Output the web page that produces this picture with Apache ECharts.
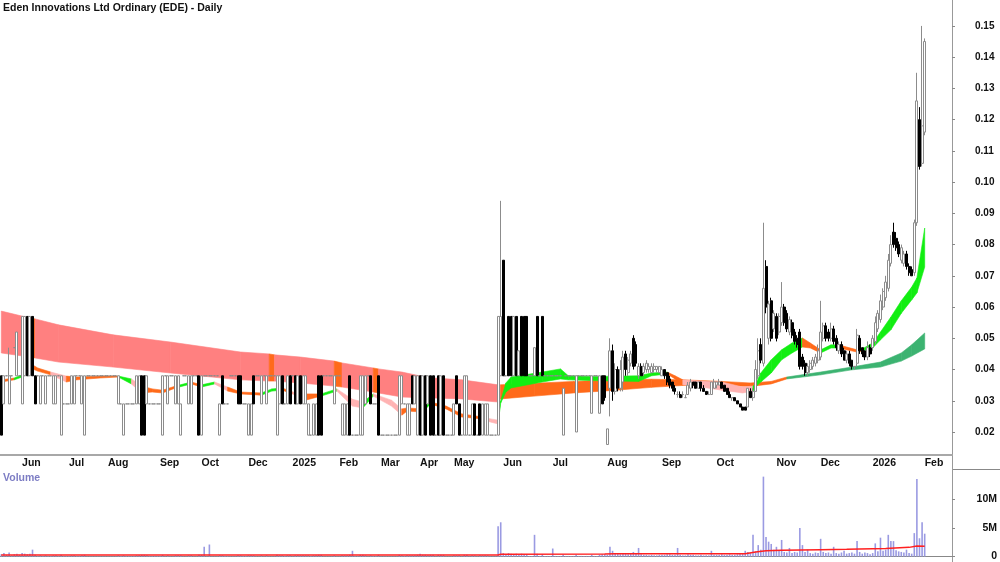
<!DOCTYPE html>
<html>
<head>
<meta charset="utf-8">
<script src="https://cdn.jsdelivr.net/npm/echarts@6.0.0/dist/echarts.min.js"></script>
<style>
  html, body { margin: 0; padding: 0; background: #fff; }
  #main { width: 1000px; height: 562px; }
</style>
</head>
<body>
<div id="main"></div>
<script>
// price levels the stock kept returning to in 2024-25
var H = 0.038, M = 0.029, L = 0.019;
var dH = [H, H, H, H], dM = [M, M, M, M], dL = [L, L, L, L];
var uMH = [M, H, M, H], dHM = [H, M, M, H], uLH = [L, H, L, H], dHL = [H, L, L, H], uLM = [L, M, L, M], dML = [M, L, L, M];

// candles: [open, close, low, high], one per traded day
var may24 = [dHL, uMH, dH, [M, H, M, 0.047], dH, [0.047, 0.047, 0.047, 0.047], [H, 0.052, H, 0.052], dH];
var jun24 = [[M, 0.057, M, 0.057], [H, 0.057, H, 0.057], [0.057, H, H, 0.057], [H, 0.057, H, 0.057], [0.057, H, H, 0.057],
  dHM, dH, uMH, dH, uMH, dH, dH, uMH, uMH, dH, uLH, dM, dM];
var jul24 = [dM, uMH, uMH, dH, dH, uMH, uLH, dH, dH, dH, dH, dH, dH, dH, dH];
var aug24 = [dH, dH, dH, dH, uMH, dM, uLM, dM, dM, dM, dM, uMH, uMH, dHL, dHL, uMH, dM, dM, dM, dM];
var sep24 = [dM, uLH, dH, uMH, dH, dH, uMH, uMH, uLM, dH, dH, uMH, uMH, dH, dH, dHL];
var oct24 = [uLH, dH, dH, dH, dH, dH, dH, uLM, dHM, dM, dM, dH, dH, dH, dHM, dHM, dM, dM];
var dec24 = [uLM, uLM, dHM, dH, dH, uMH, dH, uMH, dH, dH, dH, uLH, uMH, dHM, dM, uMH, dHM];
var jan25 = [dH, dHM, uMH, dHM, uMH, uMH, uLM, dL, uLM, uLM, dHL, dHL, dH, dH, dH, dH, uMH, dH];
var feb25 = [dH, uLM, uLM, uLM, dHL, dL, dL, dL, uLH, uLH, uMH, dH, dHM, dM, dM, dHL];
var mar25 = [dL, dL, dL, dL, dL, dL, dL, uLH, uMH, dM, uLM, uLM, dHM, uMH, uLH];
var apr25 = [dHL, uLH, dHL, uMH, dHL, dHL, dL, dHL, uLH, dHL, dL, dL, dL];
var may25 = [uLM, dHM, dML, dL, uLH, uLH, dL, uLM, dML, dL, dML, uLM, uLM, uLM, dL, dL, dL,
  [L, 0.057, L, 0.057], [H, 0.057, H, 0.094]];
var jun25 = [[0.075, H, H, 0.075], dH, [0.057, H, H, 0.057], [0.057, H, H, 0.057], [H, 0.057, H, 0.057], [0.057, H, H, 0.057],
  [H, 0.046, H, 0.046], [0.057, H, H, 0.057], [0.057, H, H, 0.057], [0.057, H, H, 0.057], dH, dH, [H, 0.047, H, 0.047],
  [0.057, H, H, 0.057], dH, [0.057, H, H, 0.057], dH, dH, dH];
var jul25 = [dH, dH, dH, dH, [L, 0.034, L, 0.034], dH, dH, dH, dH, [0.020, H, 0.020, H], dH, dH, dH, dH, dH,
  [0.026, H, 0.026, H], dH, dH, [0.026, H, 0.026, H], [H, M, M, H], [H, 0.031, 0.030, H]];
var aug25 = [[0.016, 0.021, 0.016, 0.021], [0.034, 0.046, 0.025, 0.050], [0.046, 0.033, 0.030, 0.048], [0.033, 0.040, 0.032, 0.042],
  [0.040, 0.034, 0.033, 0.041], [0.034, 0.040, 0.033, 0.043], [0.036, 0.044, 0.033, 0.046], [0.045, 0.040, 0.038, 0.046],
  [0.039, 0.043, 0.038, 0.044], [0.042, 0.045, 0.041, 0.046], [0.050, 0.041, 0.040, 0.051], [0.048, 0.042, 0.041, 0.049],
  [0.038, 0.041, 0.037, 0.042], [0.041, 0.038, 0.038, 0.042], [0.039, 0.041, 0.038, 0.042], [0.040, 0.042, 0.039, 0.043],
  [0.040, 0.041, 0.039, 0.042], [0.039, 0.041, 0.039, 0.042], [0.040, 0.041, 0.039, 0.042], [0.040, 0.041, 0.039, 0.041],
  [0.039, 0.041, 0.039, 0.041]];
var sep25 = [[0.038, 0.040, 0.038, 0.041], [0.040, 0.038, 0.037, 0.040], [0.039, 0.036, 0.035, 0.039], [0.037, 0.035, 0.034, 0.038],
  [0.036, 0.034, 0.033, 0.036], [0.034, 0.033, 0.032, 0.035], [0.032, 0.032, 0.031, 0.033], [0.032, 0.031, 0.031, 0.033],
  [0.032, 0.032, 0.031, 0.033], [0.031, 0.031, 0.031, 0.032], [0.032, 0.035, 0.032, 0.036], [0.034, 0.036, 0.033, 0.037],
  [0.036, 0.035, 0.034, 0.036], [0.036, 0.034, 0.034, 0.036], [0.034, 0.036, 0.034, 0.036], [0.036, 0.034, 0.033, 0.036],
  [0.034, 0.033, 0.033, 0.035], [0.033, 0.032, 0.032, 0.033], [0.032, 0.032, 0.032, 0.033], [0.032, 0.036, 0.032, 0.036],
  [0.034, 0.036, 0.034, 0.037]];
var oct25 = [[0.035, 0.036, 0.034, 0.036], [0.035, 0.036, 0.035, 0.037], [0.036, 0.034, 0.034, 0.036], [0.035, 0.033, 0.033, 0.035],
  [0.034, 0.032, 0.032, 0.034], [0.032, 0.031, 0.031, 0.033], [0.031, 0.031, 0.030, 0.031], [0.031, 0.030, 0.030, 0.031],
  [0.030, 0.029, 0.029, 0.030], [0.029, 0.028, 0.028, 0.029], [0.028, 0.027, 0.027, 0.028], [0.028, 0.027, 0.027, 0.028],
  [0.028, 0.034, 0.028, 0.034], [0.033, 0.031, 0.031, 0.034], [0.031, 0.033, 0.030, 0.034], [0.033, 0.040, 0.033, 0.043],
  [0.038, 0.046, 0.037, 0.050], [0.048, 0.043, 0.042, 0.050], [0.042, 0.066, 0.041, 0.087], [0.073, 0.060, 0.058, 0.075],
  [0.050, 0.061, 0.048, 0.062], [0.062, 0.050, 0.049, 0.063], [0.053, 0.058, 0.052, 0.059]];
var nov25 = [[0.057, 0.050, 0.049, 0.058], [0.052, 0.057, 0.051, 0.058], [0.055, 0.060, 0.054, 0.068], [0.060, 0.055, 0.054, 0.061],
  [0.058, 0.053, 0.052, 0.059], [0.052, 0.056, 0.051, 0.057], [0.055, 0.051, 0.050, 0.056], [0.052, 0.049, 0.048, 0.053],
  [0.050, 0.048, 0.047, 0.051], [0.052, 0.041, 0.040, 0.053], [0.044, 0.041, 0.040, 0.045], [0.042, 0.039, 0.038, 0.043],
  [0.039, 0.041, 0.038, 0.042], [0.040, 0.042, 0.039, 0.043], [0.041, 0.043, 0.040, 0.044], [0.042, 0.044, 0.041, 0.045],
  [0.043, 0.046, 0.042, 0.048]];
var dec25 = [[0.044, 0.052, 0.043, 0.062], [0.050, 0.054, 0.049, 0.055], [0.054, 0.050, 0.049, 0.055], [0.052, 0.050, 0.049, 0.053],
  [0.050, 0.053, 0.049, 0.055], [0.053, 0.049, 0.048, 0.054], [0.050, 0.047, 0.046, 0.051], [0.046, 0.048, 0.045, 0.049],
  [0.048, 0.045, 0.044, 0.049], [0.046, 0.043, 0.043, 0.047], [0.043, 0.045, 0.042, 0.046], [0.045, 0.042, 0.041, 0.046],
  [0.043, 0.041, 0.040, 0.043], [0.041, 0.041, 0.040, 0.041], [0.042, 0.051, 0.041, 0.053], [0.050, 0.046, 0.045, 0.051],
  [0.047, 0.045, 0.044, 0.047], [0.046, 0.044, 0.043, 0.046], [0.044, 0.047, 0.043, 0.049], [0.047, 0.045, 0.044, 0.048]];
var jan26 = [[0.047, 0.050, 0.046, 0.051], [0.049, 0.055, 0.048, 0.057], [0.053, 0.058, 0.052, 0.059], [0.056, 0.062, 0.055, 0.064],
  [0.060, 0.065, 0.059, 0.066], [0.063, 0.068, 0.062, 0.070], [0.066, 0.075, 0.065, 0.077], [0.074, 0.080, 0.073, 0.083],
  [0.084, 0.080, 0.079, 0.087], [0.082, 0.079, 0.078, 0.084], [0.080, 0.077, 0.076, 0.081], [0.075, 0.079, 0.074, 0.080],
  [0.074, 0.077, 0.073, 0.078], [0.077, 0.073, 0.072, 0.078], [0.073, 0.071, 0.070, 0.074], [0.072, 0.070, 0.070, 0.073],
  [0.071, 0.087, 0.070, 0.088], [0.087, 0.126, 0.086, 0.135], [0.120, 0.105, 0.104, 0.124], [0.106, 0.118, 0.105, 0.150]];
var feb26 = [[0.116, 0.145, 0.115, 0.146]];

// volume, millions of shares
var volMay24 = [0.4, 0.6, 0.3, 0.7, 0.2, 0.4, 0.5, 0.3];
var volJun24 = [0.6, 0.5, 0.4, 0.5, 1.2, 0.3, 0.1, 0.2, 0.1, 0.2, 0.1, 0.1, 0.2, 0.2, 0.1, 0.3, 0.1, 0.1];
var volJul24 = [0.1, 0.2, 0.2, 0.1, 0.1, 0.2, 0.3, 0.05, 0.05, 0.05, 0.05, 0.05, 0.05, 0.05, 0.05];
var volAug24 = [0.05, 0.05, 0.05, 0.05, 0.2, 0.1, 0.2, 0.1, 0.1, 0.1, 0.1, 0.2, 0.2, 0.3, 0.3, 0.2, 0.1, 0.1, 0.1, 0.1];
var volSep24 = [0.1, 0.3, 0.05, 0.2, 0.05, 0.05, 0.2, 0.2, 0.2, 0.05, 0.05, 0.2, 0.2, 0.05, 0.05, 0.3];
var volOct24 = [0.3, 1.7, 0.05, 2.1, 0.05, 0.05, 0.05, 0.2, 0.2, 0.1, 0.1, 0.05, 0.05, 0.05, 0.2, 0.2, 0.1, 0.1];
var volDec24 = [0.2, 0.2, 0.2, 0.05, 0.05, 0.2, 0.05, 0.2, 0.05, 0.05, 0.05, 0.3, 0.2, 0.2, 0.1, 0.2, 0.2];
var volJan25 = [0.05, 0.2, 0.2, 0.2, 0.2, 0.2, 0.2, 0.1, 0.2, 0.2, 0.3, 0.3, 0.05, 0.05, 0.05, 0.05, 0.2, 0.05];
var volFeb25 = [0.05, 0.2, 0.2, 0.2, 0.3, 1.0, 0.1, 0.1, 0.3, 0.3, 0.2, 0.05, 0.2, 0.1, 0.1, 0.3];
var volMar25 = [0.05, 0.05, 0.05, 0.05, 0.05, 0.05, 0.05, 0.3, 0.2, 0.1, 0.2, 0.2, 0.2, 0.2, 0.3];
var volApr25 = [0.5, 0.3, 0.3, 0.2, 0.3, 0.3, 0.05, 0.3, 0.3, 0.3, 0.05, 0.05, 0.05];
var volMay25 = [0.2, 0.2, 0.2, 0.05, 0.3, 0.3, 0.05, 0.2, 0.2, 0.05, 0.2, 0.2, 0.2, 0.2, 0.05, 0.05, 0.05, 5.3, 6.0];
var volJun25 = [0.6, 0.3, 0.6, 0.5, 0.4, 0.5, 0.3, 0.5, 0.4, 0.4, 0.1, 0.1, 3.8, 0.5, 0.1, 0.4, 0.1, 0.1, 0.1];
var volJul25 = [1.4, 0.1, 0.1, 0.1, 0.3, 0.1, 0.1, 0.1, 0.1, 0.3, 0.1, 0.1, 0.1, 0.1, 0.1, 0.3, 0.1, 0.1, 0.3, 0.4, 0.4];
var volAug25 = [0.3, 1.7, 1.0, 0.6, 0.5, 0.4, 0.6, 0.5, 0.4, 0.5, 0.8, 0.6, 1.5, 0.4, 0.3, 0.3, 0.2, 0.3, 0.2, 0.2, 0.3];
var volSep25 = [0.3, 0.3, 0.4, 0.4, 0.3, 0.3, 1.5, 0.3, 0.2, 0.2, 0.4, 0.3, 0.3, 0.2, 0.2, 0.3, 0.2, 0.2, 0.2, 1.0, 0.3];
var volOct25 = [0.3, 0.3, 0.4, 0.3, 0.3, 0.4, 0.3, 0.3, 0.4, 0.5, 0.6, 1.0, 0.8, 0.6, 3.8, 0.9, 2.0, 1.2, 14.0, 3.4, 2.6, 2.2, 1.2];
var volNov25 = [1.7, 1.0, 2.9, 0.8, 0.7, 1.5, 0.6, 0.8, 0.7, 5.0, 2.0, 0.8, 1.2, 0.6, 0.5, 0.7, 0.6];
var volDec25 = [3.1, 0.8, 0.6, 0.7, 0.5, 1.7, 0.6, 0.5, 0.7, 1.0, 0.5, 0.6, 0.7, 0.5, 2.7, 0.8, 0.5, 0.7, 0.6, 0.4];
var volJan26 = [0.6, 2.3, 0.9, 3.3, 1.0, 1.2, 3.8, 2.7, 2.7, 1.1, 0.9, 0.8, 0.7, 1.2, 0.6, 0.5, 4.1, 13.6, 3.2, 6.0];
var volFeb26 = [4.0];

// volume average line, read at a few bars
var volMaIdx = [0, 191, 192, 232, 236, 286, 290, 294, 300, 315, 325, 340, 349, 352, 355];
var volMa = [0.25, 0.25, 0.4, 0.45, 0.5, 0.5, 0.8, 1.0, 1.1, 1.2, 1.25, 1.4, 1.6, 1.85, 1.8];

// long-term average ribbon (bar index, upper, lower, trend of the stretch after it)
var longIdx = [0, 11, 13, 22, 43, 65, 92, 103, 105, 115, 128, 131, 143, 145, 154, 163, 166, 177, 191, 192,
  205, 220, 235, 250, 262, 277, 288, 296, 302, 315, 327, 338, 346, 350, 355];
var longHi = [0.0587, 0.0565, 0.0562, 0.0543, 0.0511, 0.0488, 0.0456, 0.0450, 0.0447, 0.0440, 0.0427, 0.0421, 0.0405, 0.0402,
  0.0392, 0.0376, 0.0373, 0.0367, 0.0351, 0.0351, 0.0356, 0.0362, 0.0367, 0.0369, 0.0367, 0.0362, 0.0357, 0.0362, 0.0376,
  0.0392, 0.0408, 0.0424, 0.0453, 0.0479, 0.0517];
var longLo = [0.0453, 0.0440, 0.0437, 0.0424, 0.0408, 0.0389, 0.0367, 0.0363, 0.0363, 0.0357, 0.0347, 0.0344, 0.0328, 0.0325,
  0.0312, 0.0309, 0.0309, 0.0306, 0.0296, 0.0306, 0.0315, 0.0325, 0.0333, 0.0343, 0.0349, 0.0349, 0.0346, 0.0354, 0.0370,
  0.0383, 0.0399, 0.0408, 0.0427, 0.0443, 0.0466];
var longTrend = ['d', 't', 'd', 'd', 'd', 'd', 'd', 't', 'd', 'd', 't', 'd', 't', 'd', 'd', 't', 'd', 'd', 'd', 't',
  't', 't', 't', 't', 't', 't', 't', 't', 'u', 'u', 'u', 'u', 'u', 'u'];

// short-term average ribbon
var shortIdx = [0, 5, 8, 10, 12, 14, 19, 25, 29, 38, 45, 50, 54, 58, 62, 67, 73, 77, 82, 87,
  92, 100, 104, 108, 112, 117, 123, 129, 135, 139, 143, 150, 154, 156, 162, 165, 171, 177, 185, 188,
  191, 192, 194, 196, 208, 215, 218, 230, 245, 250, 256, 259, 262, 269, 277, 285, 289, 290, 292, 296,
  300, 304, 308, 311, 315, 319, 322, 325, 329, 331, 335, 338, 342, 346, 350, 352, 355];
var shortHi = [0.0367, 0.0373, 0.0383, 0.0424, 0.0415, 0.0405, 0.0392, 0.0379, 0.0376, 0.0379,
  0.0379, 0.0370, 0.0347, 0.0338, 0.0334, 0.0347, 0.0360, 0.0351, 0.0360, 0.0344,
  0.0328, 0.0325, 0.0338, 0.0341, 0.0328, 0.0322, 0.0322, 0.0338, 0.0305, 0.0296,
  0.0322, 0.0302, 0.0274, 0.0277, 0.0274, 0.0296, 0.0283, 0.0258, 0.0248, 0.0242,
  0.0238, 0.0300, 0.0357, 0.0376, 0.0392, 0.0402, 0.0380, 0.0378, 0.0380, 0.0389,
  0.0392, 0.0380, 0.0367, 0.0363, 0.0360, 0.0344, 0.0347, 0.0354, 0.0389, 0.0431,
  0.0463, 0.0485, 0.0501, 0.0485, 0.0463, 0.0479, 0.0479, 0.0472, 0.0463, 0.0466,
  0.0485, 0.0520, 0.0568, 0.0620, 0.0664, 0.0693, 0.0853];
var shortLo = [0.0360, 0.0367, 0.0376, 0.0411, 0.0402, 0.0395, 0.0383, 0.0360, 0.0367, 0.0373,
  0.0376, 0.0354, 0.0325, 0.0328, 0.0325, 0.0341, 0.0354, 0.0344, 0.0354, 0.0331,
  0.0322, 0.0318, 0.0331, 0.0334, 0.0322, 0.0302, 0.0315, 0.0331, 0.0283, 0.0277,
  0.0315, 0.0283, 0.0254, 0.0267, 0.0264, 0.0290, 0.0274, 0.0248, 0.0242, 0.0232,
  0.0226, 0.0293, 0.0328, 0.0341, 0.0360, 0.0370, 0.0367, 0.0364, 0.0362, 0.0380,
  0.0386, 0.0370, 0.0351, 0.0344, 0.0334, 0.0325, 0.0331, 0.0344, 0.0360, 0.0389,
  0.0431, 0.0453, 0.0472, 0.0469, 0.0453, 0.0469, 0.0469, 0.0463, 0.0456, 0.0459,
  0.0469, 0.0495, 0.0527, 0.0580, 0.0623, 0.0645, 0.0728];
var shortTrend = ['d', 'u', 'u', 'u', 'd', 'd', 'm', 'd', 'd', 'd',
  'u', 'm', 'd', 'd', 'd', 'u', 'd', 'u', 'm', 'd',
  'd', 'u', 'u', 'd', 'm', 'd', 'u', 'm', 'm', 'u',
  'm', 'm', 'd', 'd', 'u', 'd', 'd', 'd', 'm', 'm',
  'u', 'u', 'u', 'u', 'u', 'u', 'u', 'u', 'u', 'u',
  'd', 'd', 'm', 'm', 'm', 'm', 'u', 'u', 'u', 'u',
  'u', 'u', 'd', 'd', 'u', 'u', 'd', 'd', 'd', 'u',
  'u', 'u', 'u', 'u', 'u', 'u'];

// first bar of each month on the axis
var monthStarts = [8, 26, 41, 61, 77, 95, 112, 130, 146, 161, 174, 193, 212, 233, 254, 275, 298, 315, 335, 355];
var monthLabels = ['Jun', 'Jul', 'Aug', 'Sep', 'Oct', 'Dec', '2025', 'Feb', 'Mar', 'Apr', 'May',
  'Jun', 'Jul', 'Aug', 'Sep', 'Oct', 'Nov', 'Dec', '2026', 'Feb'];
var priceTicks = [0.02, 0.03, 0.04, 0.05, 0.06, 0.07, 0.08, 0.09, 0.10, 0.11, 0.12, 0.13, 0.14, 0.15];
var volTicks = [0, 5, 10];

var candles = [].concat(may24, jun24, jul24, aug24, sep24, oct24, dec24, jan25, feb25, mar25, apr25, may25,
  jun25, jul25, aug25, sep25, oct25, nov25, dec25, jan26, feb26);
var volume = [].concat(volMay24, volJun24, volJul24, volAug24, volSep24, volOct24, volDec24, volJan25, volFeb25,
  volMar25, volApr25, volMay25, volJun25, volJul25, volAug25, volSep25, volOct25, volNov25, volDec25, volJan26, volFeb26);

var SLOTS = 366; // axis keeps some empty room after the last bar
var cats = [];
for (var i = 0; i < SLOTS; i++) cats.push(String(i));

var FONT = "'Liberation Sans', Arial, sans-serif";
var trendColor = { d: '#ff8080', t: '#ff6a1a', u: '#3cb371' };
var shortColor = { d: '#ff6a1a', u: '#12ee12', m: '#ffb3b3' };

function isMonth(idx) { return monthStarts.indexOf(idx) >= 0; }

function ribbon(idxs, hi, lo, trend, colors, z) {
  var items = [];
  for (var k = 0; k < idxs.length - 1; k++) items.push([idxs[k], hi[k], lo[k]]);
  return {
    type: 'custom',
    xAxisIndex: 0,
    yAxisIndex: 0,
    z: z,
    silent: true,
    clip: true,
    data: items,
    encode: { x: 0, y: [1, 2] },
    renderItem: function (params, api) {
      var k = params.dataIndex;
      var pts = [
        api.coord([idxs[k], hi[k]]),
        api.coord([idxs[k + 1], hi[k + 1]]),
        api.coord([idxs[k + 1], lo[k + 1]]),
        api.coord([idxs[k], lo[k]])
      ];
      var c = colors[trend[k]];
      return { type: 'polygon', shape: { points: pts }, style: { fill: c, stroke: c, lineWidth: 0.6 } };
    }
  };
}

var chart = echarts.init(document.getElementById('main'), null, { renderer: 'canvas' });

var option = {
  animation: false,
  backgroundColor: '#fff',
  textStyle: { fontFamily: FONT },
  title: [
    { text: 'Eden Innovations Ltd Ordinary (EDE) - Daily', left: 3, top: 3, padding: 0,
      textStyle: { fontSize: 10.5, fontWeight: 'bold', color: '#111', fontFamily: FONT } },
    { text: 'Volume', left: 3, top: 473, padding: 0,
      textStyle: { fontSize: 10.5, fontWeight: 'bold', color: '#7d7dc4', fontFamily: FONT } }
  ],
  grid: [
    { left: 0, right: 48, top: 0, height: 455 },
    { left: 0, right: 48, top: 469, height: 89 }
  ],
  xAxis: [
    {
      type: 'category', gridIndex: 0, data: cats, boundaryGap: true,
      axisLine: { lineStyle: { color: '#a8a8a8', width: 2 } },
      axisTick: { interval: function (idx) { return isMonth(idx); }, length: 3, lineStyle: { color: '#888' } },
      axisLabel: {
        interval: function (idx) { return isMonth(idx); },
        formatter: function (v, idx) { return monthLabels[monthStarts.indexOf(idx)]; },
        align: 'left', margin: 3, fontSize: 10.5, fontWeight: 'bold', color: '#111', fontFamily: FONT
      },
      splitLine: { show: false }
    },
    {
      type: 'category', gridIndex: 1, data: cats, boundaryGap: true, position: 'top',
      axisLine: { lineStyle: { color: '#888', width: 1 } },
      axisTick: { show: false }, axisLabel: { show: false }, splitLine: { show: false }
    }
  ],
  yAxis: [
    {
      type: 'value', gridIndex: 0, position: 'right', min: 0.01264, max: 0.1583,
      axisLine: { show: true, lineStyle: { color: '#999' } },
      axisTick: { show: true, customValues: priceTicks, length: 3, lineStyle: { color: '#888' } },
      axisLabel: {
        customValues: priceTicks, margin: 23, fontSize: 10, fontWeight: 'bold', color: '#111', fontFamily: FONT,
        formatter: function (v) { return v.toFixed(2); }
      },
      splitLine: { show: false }
    },
    {
      type: 'value', gridIndex: 1, position: 'right', min: 0, max: 15.34,
      axisLine: { show: true, lineStyle: { color: '#999' } },
      axisTick: { show: true, customValues: volTicks, length: 3, lineStyle: { color: '#888' } },
      axisLabel: {
        customValues: volTicks, margin: 45, align: 'right', fontSize: 10.5, fontWeight: 'bold', color: '#111', fontFamily: FONT,
        formatter: function (v) { return v === 0 ? '0' : v + 'M'; }
      },
      splitLine: { show: false }
    }
  ],
  series: [
    ribbon(longIdx, longHi, longLo, longTrend, trendColor, 1),
    ribbon(shortIdx, shortHi, shortLo, shortTrend, shortColor, 2),
    {
      type: 'candlestick', xAxisIndex: 0, yAxisIndex: 0, z: 3,
      data: candles, barWidth: 2.5, clip: true,
      itemStyle: {
        color: '#ffffff', color0: '#000000',
        borderColor: '#8c8c8c', borderColor0: '#000000', borderColorDoji: '#8c8c8c', borderWidth: 1
      }
    },
    {
      type: 'bar', xAxisIndex: 1, yAxisIndex: 1, data: volume, barWidth: 1.6,
      itemStyle: { color: '#9a9ae2' }
    },
    {
      type: 'line', xAxisIndex: 1, yAxisIndex: 1, z: 4,
      data: volMaIdx.map(function (x, k) { return [x, volMa[k]]; }),
      showSymbol: false, lineStyle: { color: '#ff2020', width: 1.5 }
    }
  ],
  graphic: [
    { type: 'line', silent: true, shape: { x1: 952.5, y1: 455, x2: 952.5, y2: 562 }, style: { stroke: '#999', lineWidth: 1 } },
    { type: 'line', silent: true, shape: { x1: 952, y1: 469.5, x2: 1000, y2: 469.5 }, style: { stroke: '#888', lineWidth: 1 } }
  ]
};

chart.setOption(option);
</script>
</body>
</html>
